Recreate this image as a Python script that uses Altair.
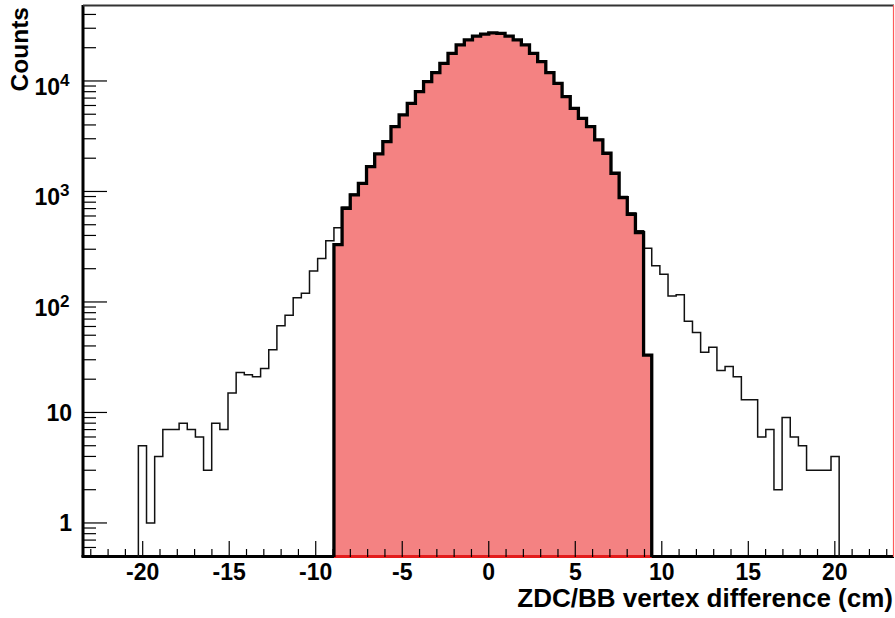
import altair as alt
import numpy as np
import pandas as pd

# Histogram binning (86 equal bins)
x_lo, x_hi = -20.25, 20.25

# All events per bin
counts_all = [
    5, 1, 4, 7, 7, 8, 7, 6, 3, 8, 7, 15, 23, 22, 21, 25, 37, 61, 76, 109, 120, 191, 248, 359,
    470, 720, 945, 1200, 1690, 2200, 2840, 3880, 4950, 6300, 8030, 9890, 11950, 14500, 17850,
    21250, 23550, 25550, 26550, 27250, 27050, 25550, 23550, 21250, 17850, 15000, 11950, 9570,
    7240, 5690, 4620, 3890, 2950, 2240, 1480, 900, 640, 440, 306,
    213, 178, 113, 116, 67, 53, 35, 39, 24, 26, 21, 13, 13, 6, 7, 2, 9, 6, 5, 3, 3, 3, 4,
]

# Selected events (first selected bin index, then counts)
first_sel = 24
counts_sel = [
    330, 705, 930, 1186, 1678, 2185, 2825, 3860, 4925, 6280, 8000, 9860, 11900, 14450, 17800,
    21200, 23500, 25500, 26500, 27200, 27000, 25500, 23500, 21200, 17800, 14960, 11900, 9530,
    7210, 5660, 4590, 3860, 2925, 2218, 1462, 880, 622, 424, 33,
]

x_major = [-20, -15, -10, -5, 0, 5, 10, 15, 20]
x_minor = list(range(-23, 24))
y_major = [1, 10, 100, 1000, 10000]
y_minor = [0.6, 0.7, 0.8, 0.9] + [m * 10 ** d for d in range(0, 4) for m in range(2, 10)] + [20000, 30000, 40000]
y_plain = {1: "1", 10: "10"}
y_power = {100: "2", 1000: "3", 10000: "4"}

X_DOMAIN = [-23.45, 23.42]
Y_DOMAIN = [0.492, 48700]
FLOOR = Y_DOMAIN[0]
W, H = 811, 552
FONT = "Liberation Sans"

xs = alt.Scale(domain=X_DOMAIN, nice=False, zero=False)
ys = alt.Scale(type="log", domain=Y_DOMAIN, nice=False, clamp=True)

edges = np.linspace(x_lo, x_hi, len(counts_all) + 1)


def outline(lefts, right_end, vals):
    rows = [(lefts[0], FLOOR)]
    rows += list(zip(lefts, vals))
    rows += [(right_end, vals[-1]), (right_end, FLOOR)]
    return pd.DataFrame({"x": [float(r[0]) for r in rows], "y": [float(r[1]) for r in rows],
                         "o": range(len(rows))})


all_line = outline(edges[:-1], edges[-1], counts_all)
sel_lefts = edges[first_sel:first_sel + len(counts_sel)]
sel_right = float(edges[first_sel + len(counts_sel)])
sel_line = outline(sel_lefts, sel_right, counts_sel)
sel_area = pd.DataFrame({
    "x": [float(v) for v in sel_lefts] + [sel_right],
    "y": [float(v) for v in counts_sel] + [float(counts_sel[-1])],
})
sel_area["y0"] = FLOOR

X = lambda: alt.X("x:Q", scale=xs, axis=None)
Y = lambda: alt.Y("y:Q", scale=ys, axis=None)

fill = alt.Chart(sel_area).mark_area(
    interpolate="step-after", fill="#f48282", opacity=1
).encode(x=X(), y=alt.Y("y:Q", scale=ys, axis=None, stack=None), y2="y0:Q")

left_axis = alt.Chart(pd.DataFrame({"a": [0]})).mark_rule(color="black", strokeWidth=3).encode(
    x=alt.value(0), y=alt.value(0), y2=alt.value(H)
)
bottom_axis = alt.Chart(pd.DataFrame({"a": [0]})).mark_rule(color="black", strokeWidth=3).encode(
    x=alt.value(-1.5), x2=alt.value(W), y=alt.value(H - 0.5)
)
top_line = alt.Chart(pd.DataFrame({"a": [0]})).mark_rule(color="#333333", strokeWidth=2).encode(
    x=alt.value(0), x2=alt.value(W), y=alt.value(0.5)
)
right_line = alt.Chart(pd.DataFrame({"a": [0]})).mark_rule(color="#ff5a5a", strokeWidth=1.2).encode(
    x=alt.value(W - 0.5), y=alt.value(0), y2=alt.value(H)
)
red_base = alt.Chart(pd.DataFrame({"x": [float(sel_lefts[0])], "x2": [sel_right]})).mark_rule(
    color="#e31c1c", strokeWidth=3
).encode(x=X(), x2="x2:Q", y=alt.value(H - 0.5))

xt_major = alt.Chart(pd.DataFrame({"x": x_major})).mark_rule(color="black", strokeWidth=1.2).encode(
    x=X(), y=alt.value(H), y2=alt.value(H - 16)
)
xt_minor = alt.Chart(pd.DataFrame({"x": [v for v in x_minor if v not in x_major]})).mark_rule(
    color="black", strokeWidth=1.2
).encode(x=X(), y=alt.value(H), y2=alt.value(H - 8))
yt_major = alt.Chart(pd.DataFrame({"y": y_major})).mark_rule(color="black", strokeWidth=1.2).encode(
    y=Y(), x=alt.value(0), x2=alt.value(24)
)
yt_minor = alt.Chart(pd.DataFrame({"y": y_minor})).mark_rule(color="black", strokeWidth=1.2).encode(
    y=Y(), x=alt.value(0), x2=alt.value(13)
)

all_hist = alt.Chart(all_line).mark_line(
    interpolate="step-after", color="#111111", strokeWidth=1.5
).encode(x=X(), y=Y(), order="o:Q")
sel_hist = alt.Chart(sel_line).mark_line(
    interpolate="step-after", color="black", strokeWidth=3.3
).encode(x=X(), y=Y(), order="o:Q")

txt = dict(font=FONT, fontWeight="bold", color="black", baseline="alphabetic")

x_labels = alt.Chart(pd.DataFrame({"x": x_major, "t": [str(v) for v in x_major]})).mark_text(
    align="center", fontSize=23, **txt
).encode(x=X(), y=alt.value(575), text="t:N")

y_lab_plain = alt.Chart(pd.DataFrame({"y": list(y_plain), "t": list(y_plain.values())})).mark_text(
    align="right", fontSize=23, dy=8.5, **txt
).encode(y=Y(), x=alt.value(-11), text="t:N")
y_lab_base = alt.Chart(pd.DataFrame({"y": list(y_power), "t": ["10"] * len(y_power)})).mark_text(
    align="right", fontSize=23, dy=14, **txt
).encode(y=Y(), x=alt.value(-23), text="t:N")
y_lab_exp = alt.Chart(pd.DataFrame({"y": list(y_power), "t": list(y_power.values())})).mark_text(
    align="left", fontSize=17, dy=5, **txt
).encode(y=Y(), x=alt.value(-23), text="t:N")

x_title = alt.Chart(pd.DataFrame({"t": ["ZDC/BB vertex difference (cm)"]})).mark_text(
    align="right", fontSize=26, **txt
).encode(x=alt.value(W - 1), y=alt.value(602), text="t:N")
y_title = alt.Chart(pd.DataFrame({"t": ["Counts"]})).mark_text(
    align="right", fontSize=24.5, angle=270, **txt
).encode(x=alt.value(-55), y=alt.value(2), text="t:N")

chart = alt.layer(
    fill, left_axis, bottom_axis, top_line, right_line, red_base,
    xt_major, xt_minor, yt_major, yt_minor,
    all_hist, sel_hist,
    x_labels, y_lab_plain, y_lab_base, y_lab_exp, x_title, y_title,
).properties(
    width=W, height=H,
    autosize=alt.AutoSizeParams(type="none"),
    padding={"left": 83, "top": 5, "right": 1, "bottom": 61},
    background="white",
).configure_view(strokeWidth=0)

chart.save("out.html", embed_options={"renderer": "svg", "actions": False})
